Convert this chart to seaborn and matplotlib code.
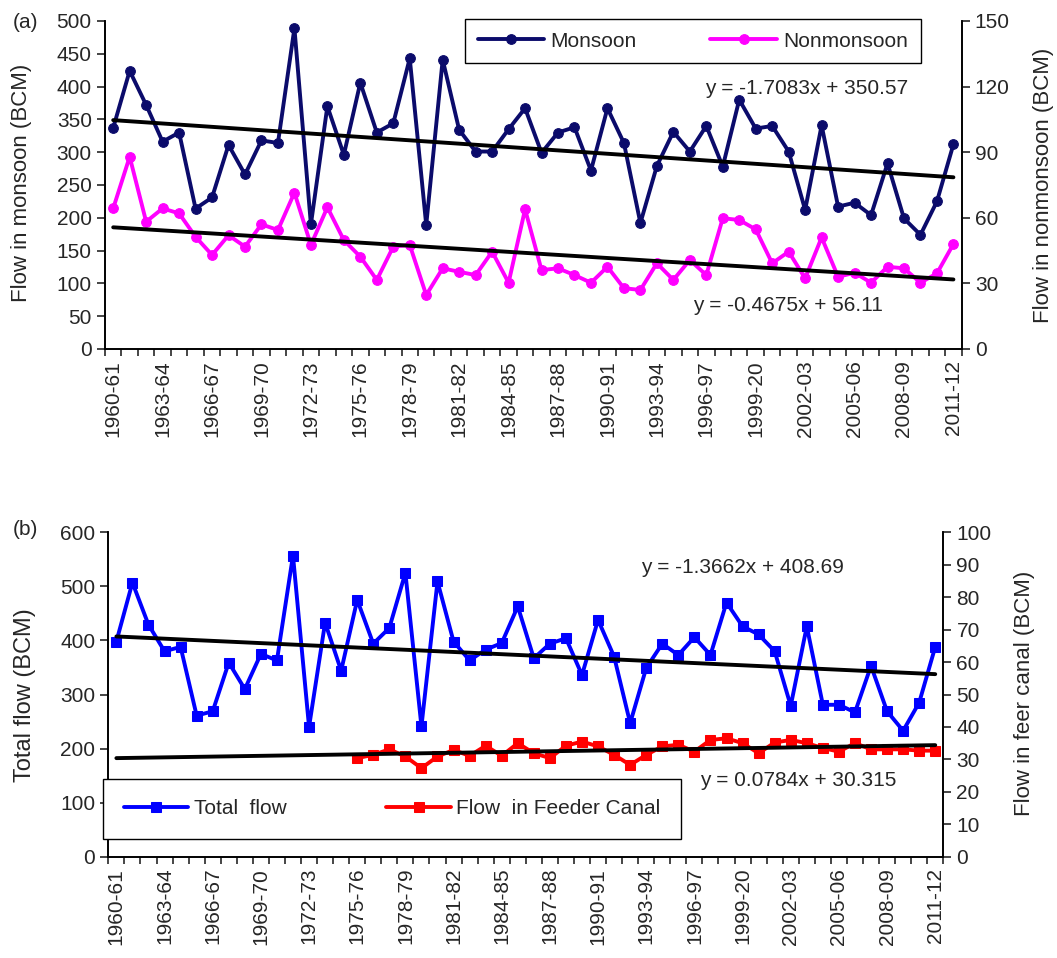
import numpy as np
import matplotlib
matplotlib.use("Agg")
import matplotlib.pyplot as plt
import seaborn as sns

# years 1960-61 .. 2011-12 (the source chart writes 1999-2000 as "1999-20")
years = [f"{y}-{str(y + 1)[-2:]}" for y in range(1960, 2012)]
years[years.index("1999-00")] = "1999-20"

monsoon = [337, 424, 372, 316, 330, 214, 231, 311, 266, 318,
           314, 489, 190, 370, 296, 406, 330, 344, 443, 189,
           441, 334, 301, 301, 335, 367, 299, 330, 338, 272,
           367, 314, 192, 279, 331, 301, 340, 278, 380, 336,
           340, 301, 212, 341, 217, 223, 204, 283, 199, 174,
           225, 312]
nonmonsoon = [64.3, 87.9, 58.2, 64.3, 62.0, 51.3, 43.0, 52.0, 46.8, 57.0,
              54.4, 71.5, 47.6, 64.8, 49.8, 42.2, 31.6, 46.8, 47.6, 24.7,
              36.9, 35.3, 33.8, 44.5, 30.3, 63.9, 36.1, 36.9, 33.8, 30.3,
              37.6, 27.8, 27.0, 39.2, 31.6, 40.7, 33.8, 59.8, 59.0, 54.7,
              39.2, 44.5, 32.3, 51.0, 33.0, 34.9, 30.3, 37.6, 36.9, 30.3,
              34.6, 48.0]
total_flow = [398, 507, 429, 380, 388, 261, 269, 359, 310, 375,
              363, 557, 240, 433, 344, 475, 394, 423, 525, 241,
              509, 398, 363, 383, 395, 463, 367, 394, 404, 336,
              438, 370, 247, 349, 394, 373, 406, 373, 470, 426,
              411, 380, 279, 426, 281, 281, 267, 353, 269, 233,
              285, 388]
# feeder canal starts in 1975-76 (index 15)
feeder_start = 15
feeder = [30.4, 31.4, 33.1, 30.9, 27.3, 30.9, 32.9, 31.1, 34.2, 31.1,
          35.0, 31.9, 30.4, 34.2, 35.5, 34.0, 31.4, 28.3, 31.4, 34.0,
          34.5, 32.4, 36.0, 36.5, 35.0, 31.9, 35.2, 36.0, 35.0, 33.5,
          32.4, 35.0, 33.1, 33.1, 33.1, 32.7, 32.7]

# trend equations printed on the chart (slope, intercept), x = 1..52
trend_monsoon = (-1.7083, 350.57)
trend_nonmonsoon = (-0.4675, 56.11)
trend_total = (-1.3662, 408.69)
trend_feeder = (0.0784, 30.315)

sns.set_style("ticks")
plt.rcParams['font.family'] = ['Liberation Sans', 'DejaVu Sans']

idx = np.arange(len(years))
fx = idx[feeder_start:feeder_start + len(feeder)]


def trend(coef):
    x = np.array([1, len(years)])
    return x - 1, coef[0] * x + coef[1]


fig = plt.figure(figsize=(10.57, 9.58), dpi=100)
ax1 = fig.add_axes([0.0993, 0.6357, 0.8105, 0.3424])
ax2 = fig.add_axes([0.1025, 0.1057, 0.7899, 0.3387])
ax1r = ax1.twinx()
ax2r = ax2.twinx()

navy = '#0b0b6b'
pink = '#ff00ff'
blue = '#0000ff'
red = '#ff0000'

# ---- panel (a)
sns.lineplot(x=idx, y=monsoon, ax=ax1, color=navy, marker='o', markersize=7,
             markeredgecolor=navy, linewidth=2.8, label='Monsoon', legend=False)
sns.lineplot(x=idx, y=nonmonsoon, ax=ax1r, color=pink, marker='o', markersize=7,
             markeredgecolor=pink, linewidth=2.8, label='Nonmonsoon', legend=False)
tx, ty = trend(trend_monsoon)
ax1.plot(tx, ty, color='black', linewidth=2.8)
tx, ty = trend(trend_nonmonsoon)
ax1r.plot(tx, ty, color='black', linewidth=2.8)

ax1.set_ylim(0, 500)
ax1.set_yticks(np.arange(0, 501, 50))
ax1r.set_ylim(0, 150)
ax1r.set_yticks(np.arange(0, 151, 30))

# ---- panel (b)
sns.lineplot(x=idx, y=total_flow, ax=ax2, color=blue, marker='s', markersize=7,
             markeredgecolor=blue, linewidth=2.8, label='Total  flow', legend=False)
sns.lineplot(x=fx, y=feeder, ax=ax2r, color=red, marker='s', markersize=7,
             markeredgecolor=red, linewidth=2.8, label='Flow  in Feeder Canal', legend=False)
tx, ty = trend(trend_total)
ax2.plot(tx, ty, color='black', linewidth=2.8)
tx, ty = trend(trend_feeder)
ax2r.plot(tx, ty, color='black', linewidth=2.8)

ax2.set_ylim(0, 600)
ax2.set_yticks(np.arange(0, 601, 100))
ax2r.set_ylim(0, 100)
ax2r.set_yticks(np.arange(0, 101, 10))

for ax in [ax1, ax2]:
    ax.set_xlim(-0.5, len(years) - 0.5)
    ax.set_xticks(idx[::3])
    ax.set_xticklabels(years[::3], rotation=90, fontsize=15)
    ax.set_xticks(np.arange(-0.5, len(years), 1), minor=True)
    ax.tick_params(axis='x', which='major', length=0, pad=8)
    ax.tick_params(axis='x', which='minor', length=5, width=1.2, direction='out')

for ax in [ax1, ax2, ax1r, ax2r]:
    ax.set_ylabel('')
    ax.spines['top'].set_visible(False)
    for s in ['left', 'right', 'bottom']:
        ax.spines[s].set_linewidth(1.2)
        ax.spines[s].set_color('black')
    ax.tick_params(axis='y', length=6, width=1.2, direction='out', labelsize=15)
    ax.set_facecolor('none')

# legends
h1 = ax1.get_lines()[:1] + ax1r.get_lines()[:1]
fig.legend(h1, [l.get_label() for l in h1], loc='lower left',
           bbox_to_anchor=(0.44, 0.934, 0.431, 0.053), mode='expand', ncol=2,
           fontsize=15, frameon=True, fancybox=False, edgecolor='black',
           framealpha=1, borderpad=0.6, handlelength=3.2, handletextpad=0.3,
           borderaxespad=0)
h2 = ax2.get_lines()[:1] + ax2r.get_lines()[:1]
fig.legend(h2, [l.get_label() for l in h2], loc='lower left',
           bbox_to_anchor=(0.0975, 0.124, 0.547, 0.067), mode='expand', ncol=2,
           fontsize=15, frameon=True, fancybox=False, edgecolor='black',
           framealpha=1, borderpad=1.0, handlelength=3.1, handletextpad=0.25,
           borderaxespad=0)

# equations
fig.text(0.667, 0.908, 'y = -1.7083x + 350.57', fontsize=15, va='center')
fig.text(0.6556, 0.6816, 'y = -0.4675x + 56.11', fontsize=15, va='center')
fig.text(0.6064, 0.4071, 'y = -1.3662x + 408.69', fontsize=15, va='center')
fig.text(0.6623, 0.1848, 'y = 0.0784x + 30.315', fontsize=15, va='center')

# panel tags and axis titles
fig.text(0.0123, 0.977, '(a)', fontsize=15, va='center')
fig.text(0.0123, 0.4468, '(b)', fontsize=15, va='center')
fig.text(0.0208, 0.809, 'Flow in monsoon (BCM)', fontsize=16, rotation=90,
         ha='center', va='center')
fig.text(0.9868, 0.807, 'Flow in nonmonsoon (BCM)', fontsize=16, rotation=90,
         ha='center', va='center')
fig.text(0.0237, 0.2745, 'Total flow (BCM)', fontsize=17, rotation=90,
         ha='center', va='center')
fig.text(0.9697, 0.2766, 'Flow in feer canal (BCM)', fontsize=16, rotation=90,
         ha='center', va='center')

fig.savefig('out.png', dpi=100)
